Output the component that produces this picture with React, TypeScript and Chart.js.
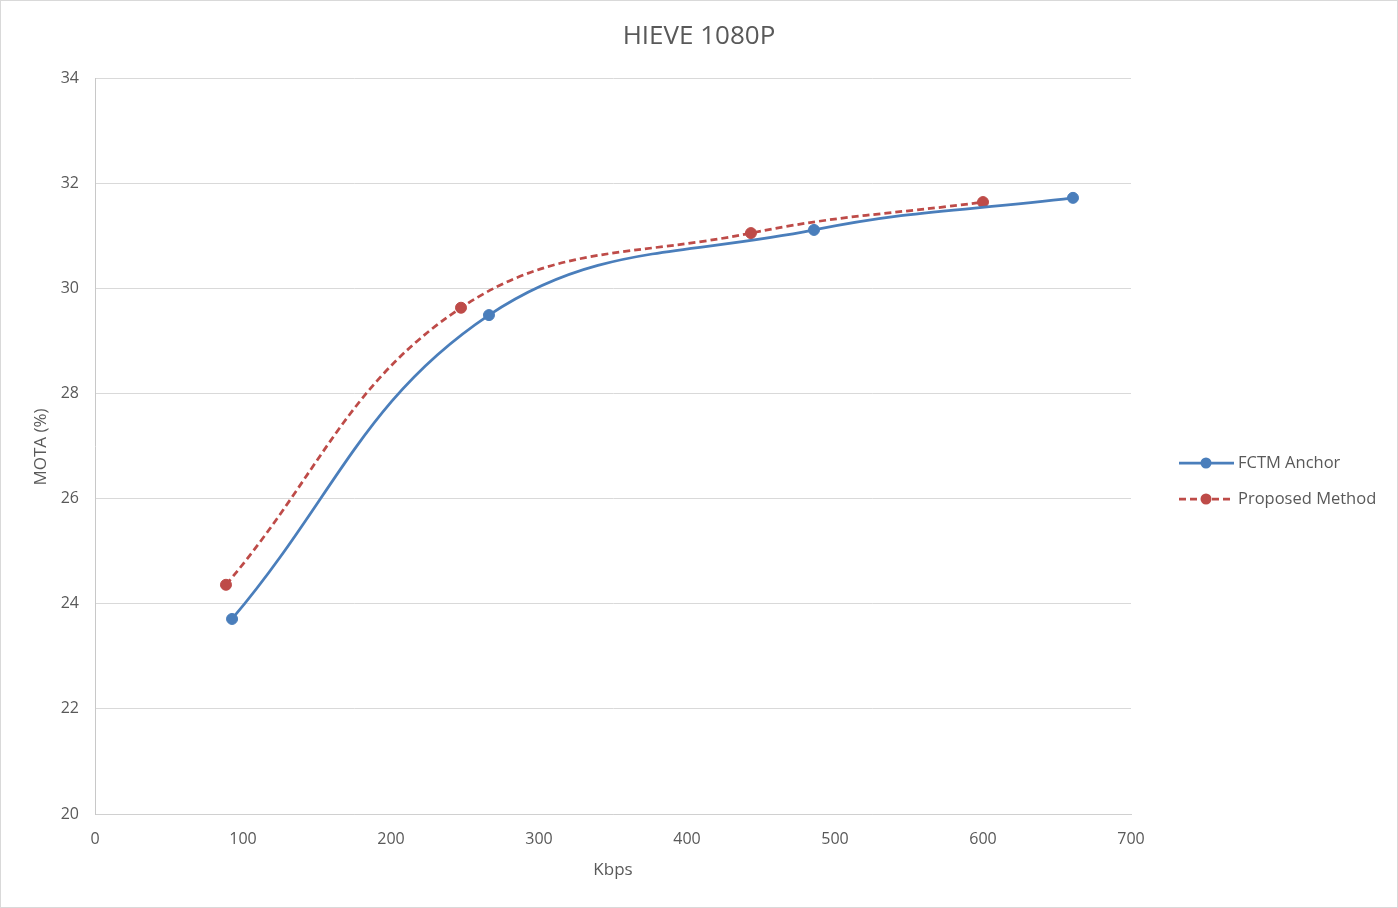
import React, { useEffect, useRef } from "react";
import { Chart, registerables } from "chart.js";

Chart.register(...registerables);

const chartTitle = "HIEVE 1080P";
const xAxisTitle = "Kbps";
const yAxisTitle = "MOTA (%)";

const anchorNames = "FCTM Anchor";
const anchorKbps = [92.6, 266.2, 485.8, 660.8];
const anchorMota = [23.71, 29.49, 31.11, 31.72];

const proposedName = "Proposed Method";
const proposedKbps = [88.5, 247.3, 443.2, 600.0];
const proposedMota = [24.36, 29.63, 31.05, 31.64];

const xMin = 0, xMax = 700, xStep = 100;
const yMin = 20, yMax = 34, yStep = 2;

const BLUE = "#4A7EBB";
const RED = "#BE4B48";
const TEXT = "#595959";
const FONT = "'Open Sans', 'Liberation Sans', sans-serif";
const DASH = [7, 4];

export default function App() {
  const ref = useRef<HTMLCanvasElement | null>(null);

  useEffect(() => {
    document.body.style.margin = "0";
    const canvas = ref.current;
    if (!canvas) return;

    const decor = {
      id: "decor",
      beforeDraw(chart: any) {
        const ctx = chart.ctx;
        ctx.save();
        ctx.fillStyle = "#ffffff";
        ctx.fillRect(0, 0, chart.width, chart.height);
        ctx.strokeStyle = "#d9d9d9";
        ctx.lineWidth = 1;
        ctx.strokeRect(0.5, 0.5, chart.width - 1, chart.height - 1);
        ctx.restore();
      },
      afterDraw(chart: any) {
        const ctx = chart.ctx;
        const ca = chart.chartArea;
        ctx.save();
        ctx.fillStyle = TEXT;
        ctx.textAlign = "center";
        ctx.textBaseline = "middle";
        ctx.font = `26px ${FONT}`;
        ctx.fillText(chartTitle, 699, 37);
        ctx.font = `17px ${FONT}`;
        ctx.fillText(xAxisTitle, (ca.left + ca.right) / 2, 870);
        ctx.save();
        ctx.translate(41, (ca.top + ca.bottom) / 2 + 1);
        ctx.rotate(-Math.PI / 2);
        ctx.fillText(yAxisTitle, 0, 0);
        ctx.restore();

        // legend
        const items = [
          { label: anchorNames, color: BLUE, dash: [] as number[], y: 463 },
          { label: proposedName, color: RED, dash: DASH, y: 499 },
        ];
        items.forEach((it) => {
          ctx.strokeStyle = it.color;
          ctx.lineWidth = 2.75;
          ctx.setLineDash(it.dash);
          ctx.beginPath();
          ctx.moveTo(1179, it.y);
          ctx.lineTo(1234, it.y);
          ctx.stroke();
          ctx.setLineDash([]);
          ctx.fillStyle = it.color;
          ctx.beginPath();
          ctx.arc(1206, it.y, 5.5, 0, Math.PI * 2);
          ctx.fill();
          ctx.fillStyle = TEXT;
          ctx.textAlign = "left";
          ctx.font = `16.5px ${FONT}`;
          ctx.fillText(it.label, 1238, it.y);
        });
        ctx.restore();
      },
    };

    const chart = new Chart(canvas, {
      type: "line",
      data: {
        datasets: [
          {
            label: anchorNames,
            data: anchorKbps.map((x, i) => ({ x, y: anchorMota[i] })),
            borderColor: BLUE,
            backgroundColor: BLUE,
            pointBackgroundColor: BLUE,
            pointBorderColor: BLUE,
            borderWidth: 2.75,
            pointRadius: 5.5,
            pointBorderWidth: 1,
            tension: 0.4,
            fill: false,
          },
          {
            label: proposedName,
            data: proposedKbps.map((x, i) => ({ x, y: proposedMota[i] })),
            borderColor: RED,
            backgroundColor: RED,
            pointBackgroundColor: RED,
            pointBorderColor: RED,
            borderWidth: 2.75,
            borderDash: DASH,
            pointRadius: 5.5,
            pointBorderWidth: 1,
            tension: 0.4,
            fill: false,
          },
        ],
      },
      options: {
        responsive: false,
        animation: false,
        devicePixelRatio: 1,
        layout: { padding: { left: 0, top: 78, right: 267, bottom: 0 } },
        plugins: {
          legend: { display: false },
          title: { display: false },
          tooltip: { enabled: false },
        },
        scales: {
          x: {
            type: "linear",
            min: xMin,
            max: xMax,
            ticks: {
              stepSize: xStep,
              color: TEXT,
              padding: 16,
              font: { family: FONT, size: 16 },
              maxRotation: 0,
            },
            grid: { display: false, drawTicks: false },
            border: { display: true, color: "#d0d0d0", width: 1 },
            afterFit(scale: any) {
              scale.height = 94;
            },
          },
          y: {
            type: "linear",
            min: yMin,
            max: yMax,
            ticks: {
              stepSize: yStep,
              color: TEXT,
              padding: 16,
              font: { family: FONT, size: 16 },
            },
            grid: { color: "#d9d9d9", drawTicks: false, lineWidth: 1 },
            border: { display: true, color: "#c8c8c8", width: 1 },
            afterFit(scale: any) {
              scale.width = 95;
            },
          },
        },
      },
      plugins: [decor],
    } as any);

    return () => chart.destroy();
  }, []);

  return (
    <div style={{ position: "absolute", left: 0, top: 0, width: 1398, height: 908 }}>
      <canvas ref={ref} width={1398} height={908} style={{ width: 1398, height: 908 }} />
    </div>
  );
}
